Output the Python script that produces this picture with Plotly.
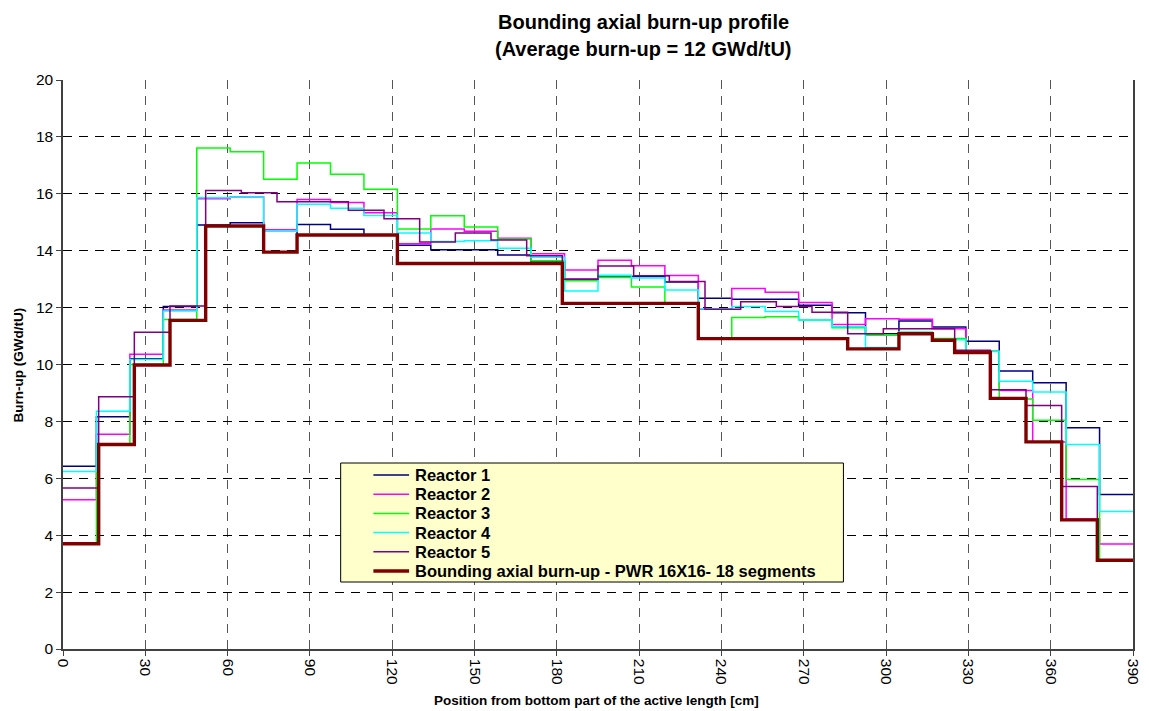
import plotly.graph_objects as go

# Axial segment boundaries [cm]
EDGES_32 = [0, 12.1875, 24.375, 36.5625, 48.75, 60.9375, 73.125, 85.3125, 97.5,
            109.6875, 121.875, 134.0625, 146.25, 158.4375, 170.625, 182.8125, 195,
            207.1875, 219.375, 231.5625, 243.75, 255.9375, 268.125, 280.3125, 292.5,
            304.6875, 316.875, 329.0625, 341.25, 353.4375, 365.625, 377.8125, 390]
EDGES_30 = [0, 13, 26, 39, 52, 65, 78, 91, 104, 117, 130, 143, 156, 169, 182, 195,
            208, 221, 234, 247, 260, 273, 286, 299, 312, 325, 338, 351, 364, 377, 390]
EDGES_BOUND = [0, 13, 26, 39, 52, 73.125, 85.3125, 121.875, 182, 231.5625, 286,
               304.6875, 316.875, 325, 338, 351, 364, 377, 390]

# Burn-up per segment [GWd/tU]
reactor1 = [6.42, 8.16, 10.20, 12.04, 14.90, 14.98, 13.95, 14.92, 14.75, 14.55, 14.19,
            14.03, 14.03, 13.85, 13.60, 13.00, 13.11, 13.09, 12.90, 12.33, 12.29, 12.29,
            12.08, 11.82, 11.08, 11.53, 11.32, 10.82, 9.77, 9.36, 7.78, 5.43]
reactor2 = [5.25, 7.55, 10.36, 11.92, 15.83, 15.89, 14.74, 15.80, 15.69, 15.33, 14.24,
            14.76, 14.68, 14.44, 13.89, 13.32, 13.66, 13.47, 13.13, 11.94, 12.67, 12.54,
            12.18, 11.41, 11.61, 11.59, 11.26, 10.47, 9.09, 7.28, 4.57, 3.69]
reactor3 = [3.70, 7.20, 10.00, 11.58, 17.61, 17.48, 16.51, 17.08, 16.69, 16.16, 14.76,
            15.23, 14.83, 14.41, 13.65, 12.94, 13.06, 12.72, 12.15, 10.89, 11.65, 11.68,
            11.56, 11.29, 11.03, 11.12, 10.91, 10.47, 8.79, 8.04, 5.96, 3.12]
reactor4 = [6.24, 8.36, 10.18, 11.88, 15.86, 15.89, 14.68, 15.63, 15.49, 15.24, 14.62,
            14.32, 14.35, 14.09, 13.77, 12.58, 13.14, 13.04, 12.62, 11.96, 12.04, 11.86,
            11.56, 11.33, 10.60, 11.14, 10.87, 10.46, 9.41, 9.03, 7.19, 4.83]
reactor5 = [5.66, 8.87, 11.13, 12.06, 16.12, 16.04, 15.72, 15.72, 15.42, 15.12, 14.31,
            14.62, 14.38, 13.82, 13.00, 13.46, 13.12, 12.92, 11.94, 12.21, 12.04, 11.84,
            11.08, 11.26, 11.26, 10.50, 9.11, 8.56, 5.71, 3.12]
bounding = [3.70, 7.19, 9.98, 11.55, 14.87, 13.95, 14.55, 13.55, 12.15, 10.91, 10.55,
            11.08, 10.85, 10.42, 8.81, 7.28, 4.54, 3.12]

series = [
    ("Reactor 1", EDGES_32, reactor1, "#000080", 1.5),
    ("Reactor 2", EDGES_32, reactor2, "#FF00FF", 1.5),
    ("Reactor 3", EDGES_32, reactor3, "#00FF00", 1.5),
    ("Reactor 4", EDGES_32, reactor4, "#00FFFF", 1.5),
    ("Reactor 5", EDGES_30, reactor5, "#800080", 1.5),
    ("Bounding axial burn-up - PWR 16X16- 18 segments", EDGES_BOUND, bounding, "#800000", 3.4),
]

FONT = "Arial, Liberation Sans, Helvetica, sans-serif"
W, H = 1149, 711
ML, MR, MT, MB = 63, 7, 80, 62
PW, PH = W - ML - MR, H - MT - MB


def px(x):
    return (x - ML) / PW


def py(y):
    return (H - MB - y) / PH


fig = go.Figure()
for name, edges, vals, color, width in series:
    fig.add_trace(go.Scatter(
        x=edges, y=vals + [vals[-1]], mode="lines", name=name,
        line=dict(color=color, width=width, shape="hv"),
        showlegend=False, hoverinfo="skip",
    ))

shapes = []
annotations = []

# legend box
shapes.append(dict(type="rect", xref="paper", yref="paper",
                   x0=px(343), x1=px(850), y0=py(582), y1=py(463),
                   fillcolor="#FFFFCC", line=dict(color="#000000", width=1), layer="above"))
row_y = [475, 494.2, 513.4, 532.6, 551.8, 571]
for (name, _, _, color, width), ry in zip(series, row_y):
    shapes.append(dict(type="line", xref="paper", yref="paper",
                       x0=px(376), x1=px(412), y0=py(ry), y1=py(ry),
                       line=dict(color=color, width=width if width < 3 else 3.5), layer="above"))
    annotations.append(dict(text="<b>%s</b>" % name, xref="paper", yref="paper",
                            x=px(416), y=py(ry), xanchor="left", yanchor="middle",
                            showarrow=False, font=dict(family=FONT, size=16.5, color="#000")))

# title
annotations.append(dict(text="<b>Bounding axial burn-up profile</b>", xref="paper", yref="paper",
                        x=px(648), y=py(22), xanchor="center", yanchor="middle",
                        showarrow=False, font=dict(family=FONT, size=20, color="#000")))
annotations.append(dict(text="<b>(Average burn-up = 12 GWd/tU)</b>", xref="paper", yref="paper",
                        x=px(648), y=py(49), xanchor="center", yanchor="middle",
                        showarrow=False, font=dict(family=FONT, size=20, color="#000")))
# axis titles
annotations.append(dict(text="<b>Burn-up (GWd/tU)</b>", xref="paper", yref="paper",
                        x=px(18), y=py(365), xanchor="center", yanchor="middle", textangle=-90,
                        showarrow=False, font=dict(family=FONT, size=13.5, color="#000")))
annotations.append(dict(text="<b>Position from bottom part of the active length [cm]</b>",
                        xref="paper", yref="paper", x=px(601), y=py(700),
                        xanchor="center", yanchor="middle",
                        showarrow=False, font=dict(family=FONT, size=13.5, color="#000")))

fig.update_layout(
    width=W, height=H, autosize=False,
    margin=dict(l=ML, r=MR, t=MT, b=MB, pad=0),
    paper_bgcolor="white", plot_bgcolor="white",
    font=dict(family=FONT, size=15, color="#000"),
    shapes=shapes, annotations=annotations,
    showlegend=False,
)
fig.update_xaxes(
    range=[0, 390], tick0=0, dtick=30, tickangle=90,
    ticks="outside", ticklen=5, tickcolor="#404040",
    showline=True, linecolor="#404040", linewidth=1.5,
    showgrid=True, gridcolor="#555555", gridwidth=1, griddash="9px,7px",
    zeroline=False, tickfont=dict(size=15.5),
)
fig.update_yaxes(
    range=[0, 20], tick0=0, dtick=2,
    ticks="outside", ticklen=5, tickcolor="#404040",
    showline=True, linecolor="#404040", linewidth=1.5, mirror=True,
    showgrid=True, gridcolor="#000000", gridwidth=1, griddash="9px,7px",
    zeroline=False, tickfont=dict(size=15.5),
)

fig.write_html("out.html")
